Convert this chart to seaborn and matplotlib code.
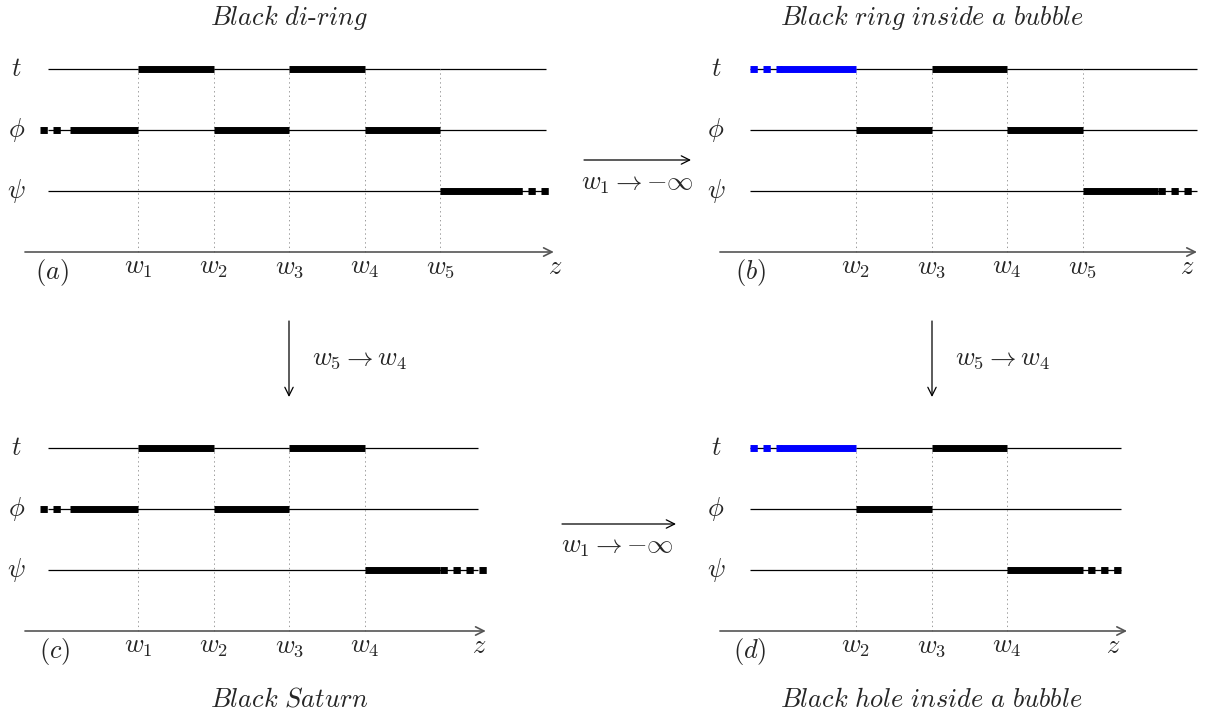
import matplotlib
matplotlib.use("Agg")
import matplotlib.pyplot as plt
import seaborn as sns
import pandas as pd

# ---------------- data ----------------
# rod positions w1..w5 along the z axis (equally spaced)
W_POS = [1, 2, 3, 4, 5]
W_LABELS = [r"$w_1$", r"$w_2$", r"$w_3$", r"$w_4$", r"$w_5$"]
ROW_NAMES = ["t", "phi", "psi"]
ROW_LABELS = [r"$t$", r"$\phi$", r"$\psi$"]
ROW_LEVEL = [3, 2, 1]

# rods per row as (start, end); None = semi-infinite rod
A_T = [(1, 2), (3, 4)]
A_PHI = [(None, 1), (2, 3), (4, 5)]
A_PSI = [(5, None)]

B_T = [(3, 4)]
B_T_BLUE = [(None, 2)]
B_PHI = [(2, 3), (4, 5)]
B_PSI = [(5, None)]

C_T = [(1, 2), (3, 4)]
C_PHI = [(None, 1), (2, 3)]
C_PSI = [(4, None)]

D_T = [(3, 4)]
D_T_BLUE = [(None, 2)]
D_PHI = [(2, 3)]
D_PSI = [(4, None)]

A_W = [1, 2, 3, 4, 5]
B_W = [2, 3, 4, 5]
C_W = [1, 2, 3, 4]
D_W = [2, 3, 4]

TITLES = ["Black di-ring", "Black ring inside a bubble", "Black Saturn", "Black hole inside a bubble"]
TAGS = [r"$(a)$", r"$(b)$", r"$(c)$", r"$(d)$"]
LIMIT_TEXT = [r"$w_1 \rightarrow {-\infty}$", r"$w_5 \rightarrow w_4$"]

# ---------------- style ----------------
sns.set_theme(style="white")
plt.rcParams["mathtext.fontset"] = "cm"
plt.rcParams["font.family"] = ["cmr10", "DejaVu Serif"]
plt.rcParams["lines.scale_dashes"] = False
plt.rcParams["axes.unicode_minus"] = False

FW, FH = 1205, 717
fig = plt.figure(figsize=(FW / 100, FH / 100), dpi=100)
fig.patch.set_facecolor("white")

SX, SY = 75.6, 61.0
FS = 19
ROD_LW = 5.0
THIN_LW = 0.9
DON, DOFF = 5.25, 4.1
BLUE = "#0000ff"


def make_ax(box, x_anchor_px, x_anchor_val, y_axis_px):
    x0, y0, x1, y1 = box
    ax = fig.add_axes([x0 / FW, 1 - y1 / FH, (x1 - x0) / FW, (y1 - y0) / FH])
    left = x_anchor_val - (x_anchor_px - x0) / SX
    ax.set_xlim(left, left + (x1 - x0) / SX)
    top = (y_axis_px - y0) / SY
    ax.set_ylim(top - (y1 - y0) / SY, top)
    ax.set_axis_off()
    return ax


def title_text(s):
    parts = s.split("-")
    out = []
    for p in parts:
        out.append("$\\mathit{" + p.replace(" ", "\\ ") + "}$")
    return "-".join(out)


def rod(ax, x0, x1, y, col):
    ax.plot([x0, x1], [y, y], color=col, lw=ROD_LW, zorder=3, solid_capstyle="butt")


def dotted_rod(ax, x0, x1, y, col, offset=0.0):
    ax.plot([x0, x1], [y, y], color=col, lw=ROD_LW, ls=(offset, (DON, DOFF)),
            dash_capstyle="butt", zorder=3)


def draw_panel(ax, cfg):
    ws = cfg["w"]
    ls, le = cfg["line"]
    for lvl in ROW_LEVEL:
        ax.plot([ls, le], [lvl, lvl], color="black", lw=THIN_LW, zorder=1,
                solid_capstyle="butt")
    for w in ws:
        ax.plot([w, w], [0, ROW_LEVEL[0]], color="#9a9a9a", lw=0.7,
                ls=(0, (1.0, 2.2)), zorder=2)
    for lvl, rods, blue in zip(ROW_LEVEL, cfg["rods"], cfg["blue"]):
        for group, col in ((rods, "black"), (blue, BLUE)):
            for s, e in group:
                if s is None:
                    s0 = e - cfg["solid_l"]
                    rod(ax, s0, e, lvl, col)
                    t1 = s0 - cfg["gap_l"] + 0.02
                    dotted_rod(ax, t1 - 0.02 - cfg["tail_l"], t1, lvl, col)
                elif e is None:
                    e0 = s + 1.0
                    rod(ax, s, e0, lvl, col)
                    dotted_rod(ax, e0 - 0.01, e0 + cfg["tail_r"], lvl, col,
                               cfg["off_r"])
                else:
                    rod(ax, s, e, lvl, col)
    a0, a1 = cfg["axis"]
    ax.annotate("", xy=(a1, 0), xytext=(a0, 0),
                arrowprops=dict(arrowstyle="->,head_length=0.5,head_width=0.25",
                                lw=1.2, color="#555555", shrinkA=0, shrinkB=0))
    for w in ws:
        ax.text(w, -0.26, W_LABELS[W_POS.index(w)], ha="center", va="center",
                fontsize=FS)
    ax.text(cfg["z_x"], -0.24, r"$z$", ha="center", va="center", fontsize=FS)
    ax.text(cfg["tag_x"], -0.33, cfg["tag"], ha="center", va="center", fontsize=FS)
    for lvl, lab in zip(ROW_LEVEL, ROW_LABELS):
        ax.text(cfg["lab_x"], lvl, lab, ha="center", va="center", fontsize=FS)
    ax.text(3, cfg["title_y"], title_text(cfg["title"]), ha="center", va="center",
            fontsize=FS)


panels = [
    dict(box=(0, 0, 602, 358), anchor=(138, 1), yaxis=252, w=A_W, line=(-0.19, 6.40),
         axis=(-0.495, 6.50), rods=[A_T, A_PHI, A_PSI], blue=[[], [], []],
         solid_l=0.9, gap_l=0.13, tail_l=0.265, tail_r=0.44, off_r=0.0,
         z_x=6.52, tag_x=-0.14, lab_x=-0.61,
         title=TITLES[0], tag=TAGS[0], title_y=3.84),
    dict(box=(602, 0, 1205, 358), anchor=(856, 2), yaxis=252, w=B_W, line=(0.598, 6.51),
         axis=(0.20, 6.51), rods=[B_T, B_PHI, B_PSI], blue=[B_T_BLUE, [], []],
         solid_l=1.0, gap_l=0.0, tail_l=0.40, tail_r=0.44, off_r=0.0,
         z_x=6.38, tag_x=0.60, lab_x=0.148,
         title=TITLES[1], tag=TAGS[1], title_y=3.84),
    dict(box=(0, 358, 602, 717), anchor=(138, 1), yaxis=631, w=C_W, line=(-0.19, 5.50),
         axis=(-0.495, 5.60), rods=[C_T, C_PHI, C_PSI], blue=[[], [], []],
         solid_l=0.9, gap_l=0.13, tail_l=0.265, tail_r=0.61, off_r=0.0,
         z_x=5.51, tag_x=-0.10, lab_x=-0.61,
         title=TITLES[2], tag=TAGS[2], title_y=-1.13),
    dict(box=(602, 358, 1205, 717), anchor=(856, 2), yaxis=631, w=D_W, line=(0.598, 5.505),
         axis=(0.20, 5.585), rods=[D_T, D_PHI, D_PSI], blue=[D_T_BLUE, [], []],
         solid_l=1.0, gap_l=0.0, tail_l=0.40, tail_r=0.53, off_r=DON,
         z_x=5.40, tag_x=0.60, lab_x=0.148,
         title=TITLES[3], tag=TAGS[3], title_y=-1.13),
]

for cfg in panels:
    ax = make_ax(cfg["box"], cfg["anchor"][0], cfg["anchor"][1], cfg["yaxis"])
    draw_panel(ax, cfg)

# transition arrows between panels
ARW = dict(arrowstyle="->,head_length=0.5,head_width=0.25", lw=0.9, color="black",
           shrinkA=0, shrinkB=0)


def fig_arrow(x0, y0, x1, y1):
    fig.axes[0].annotate("", xy=(x1, FH - y1), xytext=(x0, FH - y0),
                         xycoords="figure pixels", textcoords="figure pixels",
                         arrowprops=ARW)


fig_arrow(584, 160, 691, 160)
fig.text(637 / FW, 1 - 184 / FH, LIMIT_TEXT[0], ha="center", va="center", fontsize=FS)
fig_arrow(562, 524, 676, 524)
fig.text(617 / FW, 1 - 547 / FH, LIMIT_TEXT[0], ha="center", va="center", fontsize=FS)
fig_arrow(289, 321, 289, 397)
fig.text(312 / FW, 1 - 359 / FH, LIMIT_TEXT[1], ha="left", va="center", fontsize=FS)
fig_arrow(932, 321, 932, 397)
fig.text(955 / FW, 1 - 359 / FH, LIMIT_TEXT[1], ha="left", va="center", fontsize=FS)

fig.savefig("out.png", dpi=100, facecolor="white")
